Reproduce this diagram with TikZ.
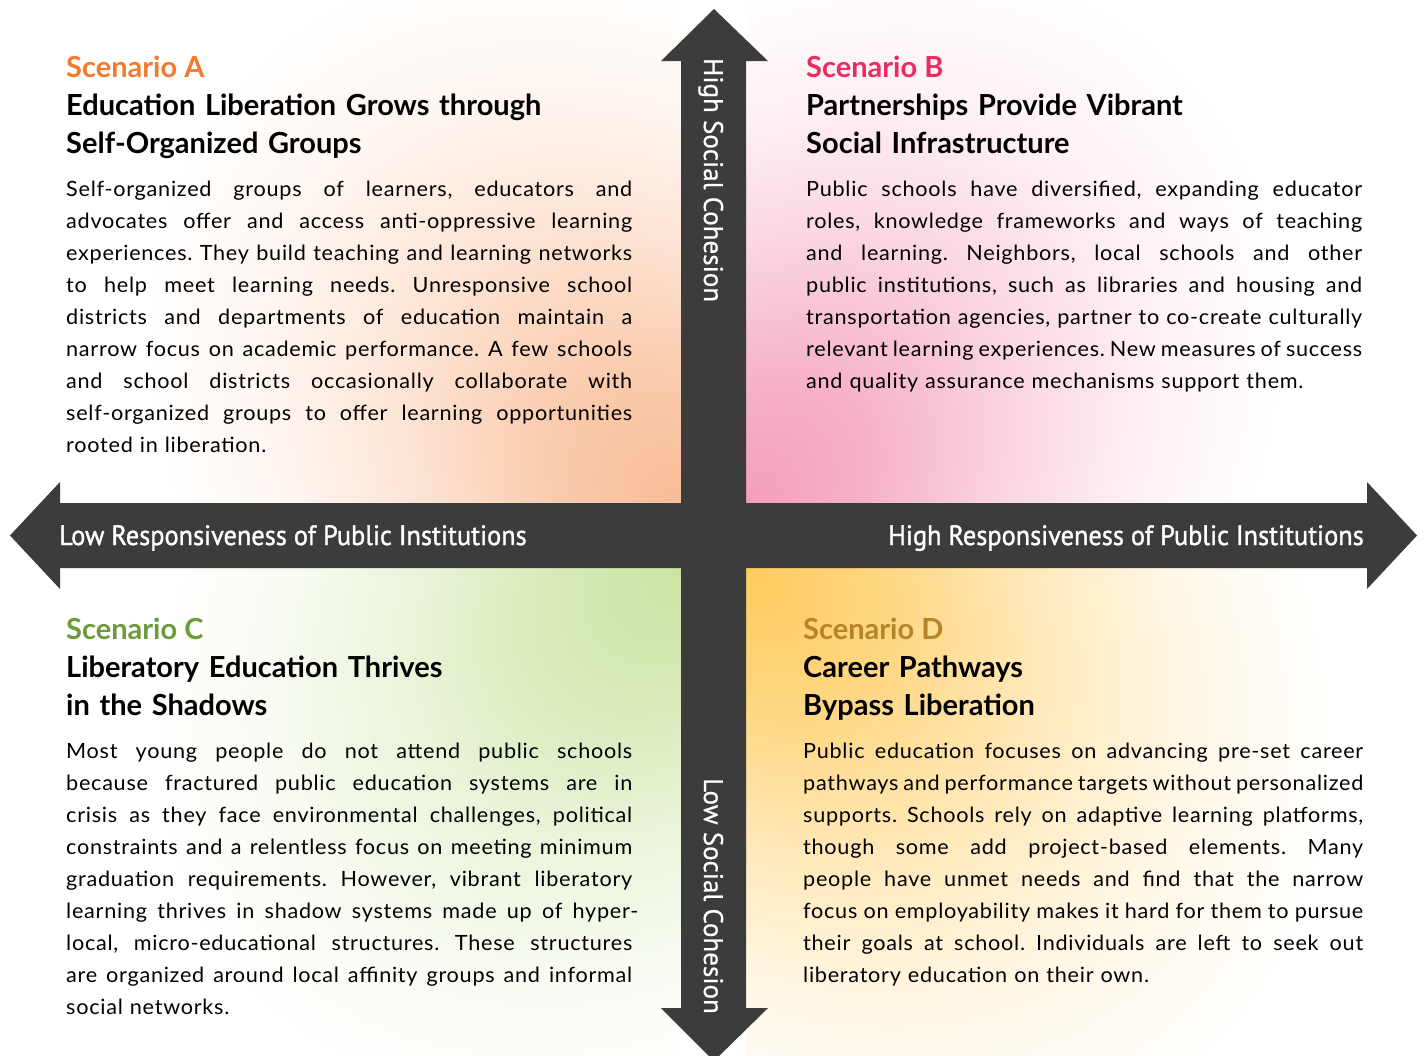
\documentclass[tikz,border=0pt]{standalone}
\usepackage{fontspec}
\setmainfont{Lato}
\newfontfamily\bodyfont[LetterSpace=3.5,FakeStretch=1.03]{Lato}
\newfontfamily\axisfont[FakeStretch=0.94,FakeBold=1.2]{PT Sans}
\newfontfamily\vaxisfont[FakeStretch=1.0,FakeBold=0.6]{PT Sans}

\definecolor{arrowgray}{HTML}{3C3C3C}
\definecolor{scena}{HTML}{F47A2E}
\definecolor{scenb}{HTML}{EC2B60}
\definecolor{scenc}{HTML}{6B9B3A}
\definecolor{scend}{HTML}{B5842A}
\definecolor{glowa}{HTML}{F9BC96}
\definecolor{glowb}{HTML}{F49EB9}
\definecolor{glowc}{HTML}{CCE4A4}
\definecolor{glowd}{HTML}{FFCB5E}

\pgfdeclareradialshading{fadea}{\pgfpoint{0bp}{0bp}}{color(0bp)=(glowa);
  color(6bp)=(glowa!78!white); color(12.5bp)=(glowa!42!white);
  color(19bp)=(glowa!14!white); color(25bp)=(white); color(50bp)=(white)}
\pgfdeclareradialshading{fadeb}{\pgfpoint{0bp}{0bp}}{color(0bp)=(glowb);
  color(6bp)=(glowb!78!white); color(12.5bp)=(glowb!42!white);
  color(19bp)=(glowb!14!white); color(25bp)=(white); color(50bp)=(white)}
\pgfdeclareradialshading{fadec}{\pgfpoint{0bp}{0bp}}{color(0bp)=(glowc);
  color(6bp)=(glowc!78!white); color(12.5bp)=(glowc!42!white);
  color(19bp)=(glowc!14!white); color(25bp)=(white); color(50bp)=(white)}
\pgfdeclareradialshading{faded}{\pgfpoint{0bp}{0bp}}{color(0bp)=(glowd);
  color(6bp)=(glowd!78!white); color(12.5bp)=(glowd!42!white);
  color(19bp)=(glowd!14!white); color(25bp)=(white); color(50bp)=(white)}

\newcommand{\fullline}[2][\bodywd]{\leavevmode\hbox to #1{%
  \spaceskip=\fontdimen2\font plus 1fil minus 0.4\fontdimen2\font\relax#2}}

\tikzset{
  scentitle/.style={anchor=base west, inner sep=0pt, font=\fontsize{29}{36}\selectfont\bfseries},
  scenhead/.style={anchor=base west, inner sep=0pt, text width=560pt, align=left,
    font=\fontsize{29}{38}\selectfont\bfseries},
  scenbody/.style={anchor=base west, inner sep=0pt, align=left, text width=#1,
    execute at begin node={\def\bodywd{#1}},
    font=\bodyfont\fontsize{21}{32}\selectfont\frenchspacing},
  axislabel/.style={inner sep=0pt, text=white, font=\axisfont\fontsize{28}{34}\selectfont},
  vaxislabel/.style={inner sep=0pt, text=white, rotate=-90, anchor=base west,
    font=\vaxisfont\fontsize{27}{34}\selectfont},
  glowspot/.style={transform canvas={shift={#1}, rotate=\glowangle, yscale=0.72}}
}

\begin{document}
\begin{tikzpicture}[x=1pt,y=-1pt]
\useasboundingbox (0,0) rectangle (1426,1055);

\def\glowangle{135}
\begin{scope}
\clip (0,0) rectangle (681,503);
\begin{scope}[glowspot={(681,503)}]
\shade[shading=fadea] (0,0) circle (620pt);
\end{scope}
\end{scope}
\def\glowangle{45}
\begin{scope}
\clip (746,0) rectangle (1426,503);
\begin{scope}[glowspot={(746,503)}]
\shade[shading=fadeb] (0,0) circle (620pt);
\end{scope}
\end{scope}
\begin{scope}
\clip (0,568) rectangle (681,1055);
\begin{scope}[glowspot={(681,568)}]
\shade[shading=fadec] (0,0) circle (620pt);
\end{scope}
\end{scope}
\def\glowangle{135}
\begin{scope}
\clip (746,568) rectangle (1426,1055);
\begin{scope}[glowspot={(746,568)}]
\shade[shading=faded] (0,0) circle (680pt);
\end{scope}
\end{scope}

\fill[arrowgray] (10,535.5) -- (60,482) -- (60,503) -- (1367,503) -- (1367,482)
  -- (1417,535.5) -- (1367,589) -- (1367,568) -- (60,568) -- (60,589) -- cycle;
\fill[arrowgray] (714,9) -- (768,61) -- (746,61) -- (746,1008) -- (768,1008)
  -- (714,1061) -- (661,1008) -- (681,1008) -- (681,61) -- (661,61) -- cycle;

\node[axislabel, anchor=base west] (lowresp) at (59,545) {Low Responsiveness of Public Institutions};
\node[axislabel, anchor=base east] (highresp) at (1364,545) {High Responsiveness of Public Institutions};
\node[vaxislabel] (highcoh) at (704,58) {High Social Cohesion};
\node[vaxislabel] (lowcoh) at (704,778) {Low Social Cohesion};

\node[scentitle, text=scena] (scenA) at (66,77) {Scenario A};
\node[scentitle, text=scenb] (scenB) at (806,77) {Scenario B};
\node[scentitle, text=scenc] (scenC) at (66,639) {Scenario C};
\node[scentitle, text=scend] (scenD) at (803,639) {Scenario D};

\node[scenhead] (headA) at (66,115) {Education Liberation Grows through\\Self-Organized Groups};
\node[scenhead] (headB) at (806,115) {Partnerships Provide Vibrant\\Social Infrastructure};
\node[scenhead] (headC) at (66,677) {Liberatory Education Thrives\\in the Shadows};
\node[scenhead] (headD) at (803,677) {Career Pathways\\Bypass Liberation};

\node[scenbody=566pt] (textA) at (66,196) {%
\fullline{Self-organized groups of learners, educators and}\\
\fullline{advocates offer and access anti-oppressive learning}\\
\fullline{experiences. They build teaching and learning networks}\\
\fullline{to help meet learning needs. Unresponsive school}\\
\fullline{districts and departments of education maintain a}\\
\fullline{narrow focus on academic performance. A few schools}\\
\fullline{and school districts occasionally collaborate with}\\
\fullline{self-organized groups to offer learning opportunities}\\
rooted in liberation.};

\node[scenbody=556pt] (textB) at (806,196) {%
\fullline{Public schools have diversified, expanding educator}\\
\fullline{roles, knowledge frameworks and ways of teaching}\\
\fullline{and learning. Neighbors, local schools and other}\\
\fullline{public institutions, such as libraries and housing and}\\
\fullline{transportation agencies, partner to co-create culturally}\\
\fullline{relevant learning experiences. New measures of success}\\
and quality assurance mechanisms support them.};

\node[scenbody=566pt] (textC) at (66,758) {%
\fullline{Most young people do not attend public schools}\\
\fullline{because fractured public education systems are in}\\
\fullline{crisis as they face environmental challenges, political}\\
\fullline{constraints and a relentless focus on meeting minimum}\\
\fullline{graduation requirements. However, vibrant liberatory}\\
\fullline[572pt]{learning thrives in shadow systems made up of hyper-}\\
\fullline{local, micro-educational structures. These structures}\\
\fullline{are organized around local affinity groups and informal}\\
social networks.};

\node[scenbody=560pt] (textD) at (803,758) {%
\fullline{Public education focuses on advancing pre-set career}\\
\fullline{pathways and performance targets without personalized}\\
\fullline{supports. Schools rely on adaptive learning platforms,}\\
\fullline{though some add project-based elements. Many}\\
\fullline{people have unmet needs and find that the narrow}\\
\fullline{focus on employability makes it hard for them to pursue}\\
\fullline{their goals at school. Individuals are left to seek out}\\
liberatory education on their own.};
\end{tikzpicture}
\end{document}
